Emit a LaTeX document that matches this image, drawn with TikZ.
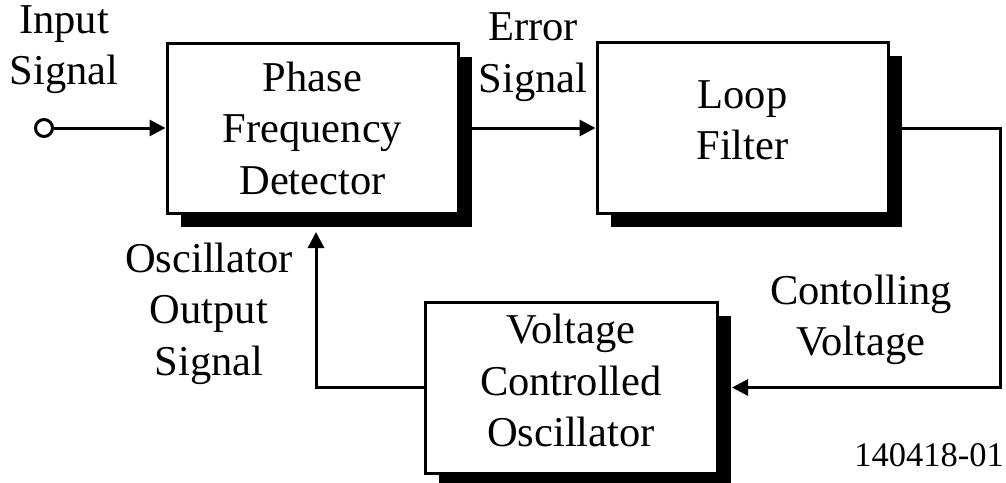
\documentclass[tikz,border=0pt]{standalone}
\usepackage{fontspec}
\setmainfont{Liberation Serif}
\usetikzlibrary{arrows.meta,shadows}
\begin{document}
\begin{tikzpicture}[x=1pt,y=-1pt,
  txt/.style={font=\fontsize{42.5}{51.5}\selectfont, align=center, inner sep=0pt},
  block/.style={txt, draw, fill=white, line width=3pt,
    drop shadow={shadow xshift=13.5pt, shadow yshift=-13.5pt, fill=black, opacity=1}},
  wire/.style={line width=3pt},
  arrow/.style={wire, -{Triangle[length=16pt,width=16pt]}}]
  \path[use as bounding box] (0,0) rectangle (1006,482);
  \clip (0,0) rectangle (1006,482);

  % blocks
  \node[block, minimum width=291pt, minimum height=170pt] (pfd) at (312.5,128) {Phase\\Frequency\\Detector};
  \node[block, minimum width=291pt, minimum height=171pt, text depth=16pt] (lf) at (742.5,128) {Loop\\Filter};
  \node[block, minimum width=292pt, minimum height=171pt, text depth=14pt] (vco) at (571,387.5) {Voltage\\Controlled\\Oscillator};

  % labels
  \node[txt] (inlab) at (64,49.5) {Input\\Signal};
  \node[txt] (errlab) at (533,57) {Error\\Signal};
  \node[txt] (ctllab) at (861,320) {Contolling\\Voltage};
  \node[txt] (osclab) at (209,313.5) {Oscillator\\Output\\Signal};
  \node[font=\fontsize{34.5}{40}\selectfont, inner sep=0pt, anchor=base east] (code) at (1004,466) {140418-01};

  % input terminal
  \node[circle, draw, fill=white, line width=3pt, minimum size=17pt, inner sep=0pt] (in) at (44,128) {};

  % connectors
  \coordinate (cr) at (1000,128);
  \coordinate (fb) at (316,232);
  \draw[arrow] (in) -- (pfd.west);
  \draw[arrow] (pfd.east) -- (lf.west);
  \draw[arrow] (lf.east) -- (lf.east -| cr) |- ([xshift=13.5pt]vco.east);
  \draw[arrow] (vco.west) -| (fb);
\end{tikzpicture}
\end{document}
